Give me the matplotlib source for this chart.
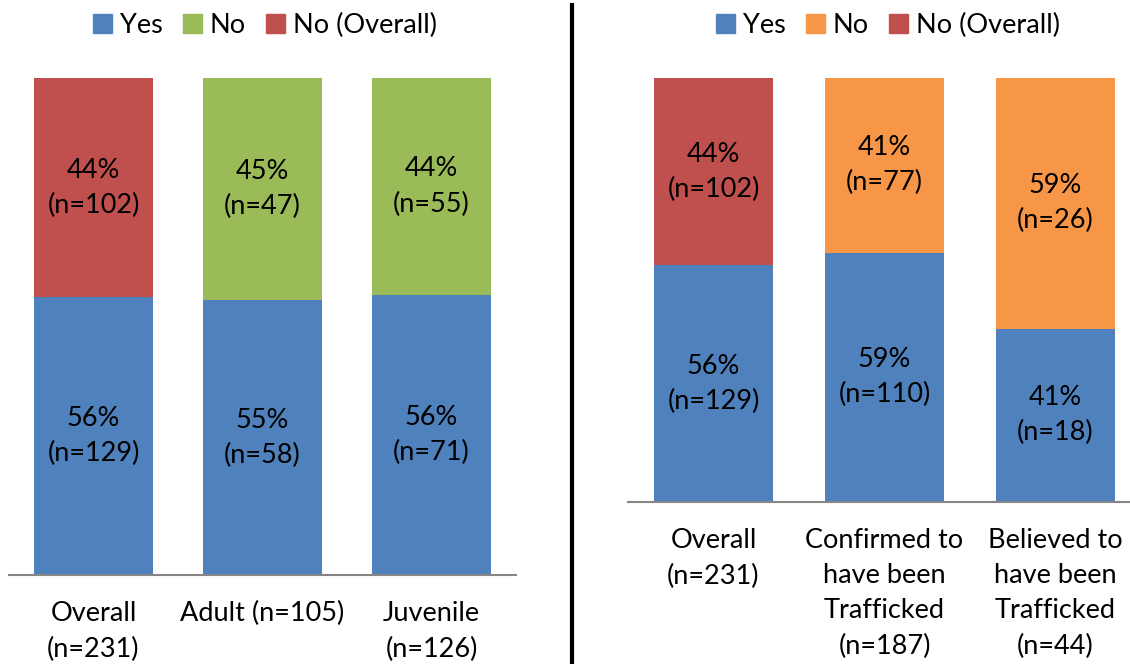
import matplotlib.pyplot as plt
from matplotlib.lines import Line2D
from matplotlib.patches import Patch

plt.rcParams['font.family'] = ['Lato', 'DejaVu Sans']

# left panel: age groups
left_cats = ["Overall\n(n=231)", "Adult (n=105)", "Juvenile\n(n=126)"]
left_yes = [129, 58, 71]
left_no = [102, 47, 55]

# right panel: trafficking status
right_cats = ["Overall\n(n=231)", "Confirmed to\nhave been\nTrafficked\n(n=187)",
              "Believed to\nhave been\nTrafficked\n(n=44)"]
right_yes = [129, 110, 18]
right_no = [102, 77, 26]

BLUE = "#4F81BD"
RED = "#C0504D"
GREEN = "#9BBB59"
ORANGE = "#F79646"

fig = plt.figure(figsize=(11.3, 6.64), dpi=100)
W, H = 1130, 664
FS = 19.5


def panel(ax, cats, yes, no, no_color, legend_x):
    n = len(cats)
    x = range(n)
    yes_frac = [y / (y + m) for y, m in zip(yes, no)]
    no_frac = [1 - f for f in yes_frac]
    no_cols = [RED] + [no_color] * (n - 1)
    ax.bar(x, yes_frac, width=0.70, color=BLUE)
    ax.bar(x, no_frac, bottom=yes_frac, width=0.70, color=no_cols)
    for i in x:
        ax.text(i, yes_frac[i] / 2, f"{round(yes_frac[i]*100)}%\n(n={yes[i]})",
                ha="center", va="center", fontsize=FS, linespacing=1.5)
        ax.text(i, yes_frac[i] + no_frac[i] / 2, f"{round(no_frac[i]*100)}%\n(n={no[i]})",
                ha="center", va="center", fontsize=FS, linespacing=1.5)
    ax.set_xlim(-0.5, n - 0.5)
    ax.set_ylim(0, 1)
    ax.set_xticks(list(x))
    ax.set_xticklabels(cats, fontsize=FS, linespacing=1.5, va="top")
    ax.tick_params(axis="x", length=0, pad=19)
    ax.set_yticks([])
    for s in ["top", "left", "right"]:
        ax.spines[s].set_visible(False)
    ax.spines["bottom"].set_color("#868686")
    ax.spines["bottom"].set_linewidth(1.5)
    handles = [Patch(color=BLUE, label="Yes"), Patch(color=no_color, label="No"),
               Patch(color=RED, label="No (Overall)")]
    fig.legend(handles=handles, loc="center", bbox_to_anchor=(legend_x / W, 1 - 25 / H),
               ncol=3, frameon=False, fontsize=FS, handlelength=0.7, handleheight=0.7,
               handletextpad=0.3, columnspacing=0.75)


ax1 = fig.add_axes([9 / W, (H - 575) / H, 507 / W, (575 - 78) / H])
panel(ax1, left_cats, left_yes, left_no, GREEN, 265)

ax2 = fig.add_axes([628 / W, (H - 502) / H, 513 / W, (502 - 78) / H])
panel(ax2, right_cats, right_yes, right_no, ORANGE, 888)

# divider between the two charts
fig.add_artist(Line2D([572 / W, 572 / W], [0, 1 - 5 / H], color="black", linewidth=3))

fig.savefig("out.png", dpi=100)
